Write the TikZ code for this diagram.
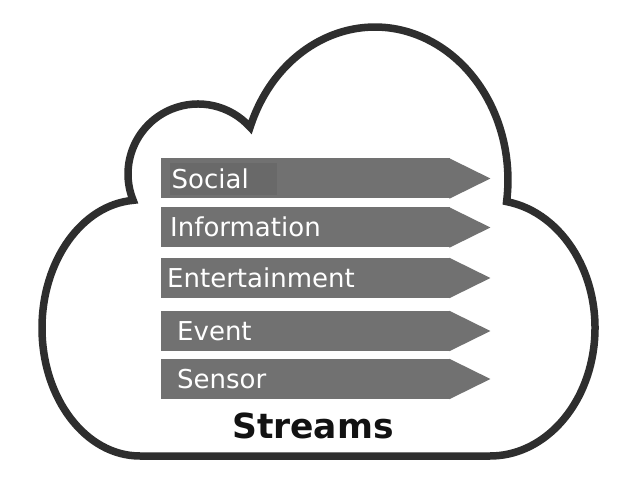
\documentclass[tikz,border=0pt]{standalone}
\usepackage{fontspec}
\setmainfont{DejaVu Sans}
\usepackage{tikz}
\usetikzlibrary{positioning}
\definecolor{cloudgray}{HTML}{2E2E2E}
\definecolor{streamgray}{HTML}{717171}
\definecolor{socialgray}{HTML}{696969}
\tikzstyle{stream}=[fill=streamgray, minimum width=289pt, minimum height=40pt, inner sep=0pt, anchor=west]
\tikzstyle{streamtext}=[text=white, font=\fontsize{26}{30}\selectfont, inner sep=0pt, anchor=west, text height=18.8pt, text depth=0pt]
\newcommand{\stream}{\node[stream]}

\begin{document}
\begin{tikzpicture}[x=1pt, y=1pt]
            \useasboundingbox (0,0) rectangle (640,480);

            % cloud
            \draw[cloudgray, line width=7.5pt, line join=miter, miter limit=4, fill=white]
                (140,24)
                arc[start angle=270, end angle=94, x radius=98, y radius=128]
                arc[start angle=202.1, end angle=41.9, radius=70]
                arc[start angle=159.8, end angle=-8.1, x radius=133, y radius=153]
                arc[start angle=80.9, end angle=-90, x radius=105, y radius=128]
                -- cycle;

            \stream (social) at (161,301.5) {};
            \stream (information) at (161,252.5) {};
            \stream (entertainment) at (161,202) {};
            \stream (event) at (161,149) {};
            \stream (sensor) at (161,101) {};

            \foreach \s in {social,information,entertainment,event,sensor}
                \fill[streamgray] ([xshift=-1pt]\s.north east) -- ([xshift=40pt]\s.east) -- ([xshift=-1pt]\s.south east) -- cycle;

            \node[streamtext, fill=socialgray, inner xsep=1.5pt, text width=104pt, align=left, minimum height=32pt] (socialtxt) at (170,301) {Social};
            \node[streamtext] (informationtxt) at (170,252.5) {Information};
            \node[streamtext] (entertainmenttxt) at (167,202) {Entertainment};
            \node[streamtext] (eventtxt) at (177,149) {Event};
            \node[streamtext] (sensortxt) at (177,101) {Sensor};

            \node[font=\bfseries\fontsize{34.5}{40}\selectfont, text=black!93, anchor=base, inner sep=0pt] (title) at (313,42) {Streams};
\end{tikzpicture}
\end{document}
